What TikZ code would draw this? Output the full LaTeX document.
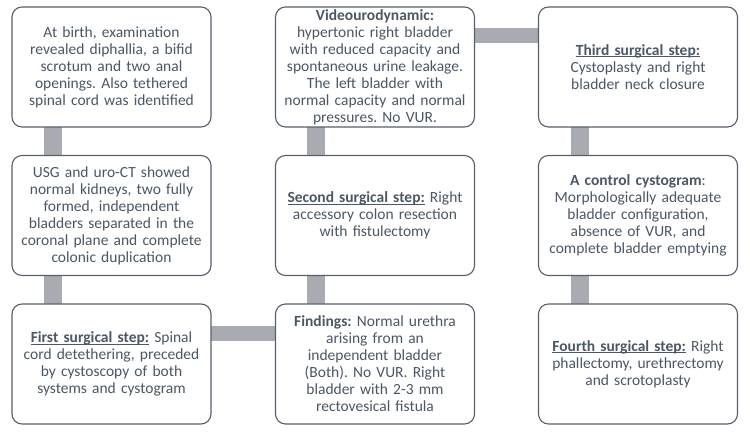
\documentclass[tikz,border=0pt]{standalone}
\usepackage{fontspec}
\setmainfont{Carlito}
\usetikzlibrary{backgrounds}
\frenchspacing
\definecolor{txt}{HTML}{4A5866}
\definecolor{bord}{HTML}{56606C}
\definecolor{barc}{HTML}{A8ABB2}
\newcommand\hul[1]{\setbox0\hbox{#1}\rlap{\rule[-2pt]{\wd0}{0.9pt}}\box0\relax}
\tikzset{
  box/.style={draw=bord, line width=1.1pt, rounded corners=10pt, fill=white,
    minimum width=199pt, minimum height=120pt, text width=197pt, align=center,
    text=txt, inner sep=0pt, font=\fontsize{15.5}{17}\selectfont},
  vbar/.style={draw=barc, line width=18pt},
  hbar/.style={draw=barc, line width=15pt}
}
\begin{document}
\begin{tikzpicture}[x=1pt,y=-1pt]
\useasboundingbox (0,0) rectangle (750,438);
% nodes
\node[box] (a1) at (111.5,67) {At birth, examination\\ revealed diphallia, a bifid\\ scrotum and two anal\\ openings. Also tethered\\ spinal cord was identified};
\node[box] (a2) at (111.5,215.5) {USG and uro-CT showed\\ normal kidneys, two fully\\ formed, independent\\ bladders separated in the\\ coronal plane and complete\\ colonic duplication};
\node[box] (a3) at (111.5,364) {\hul{\textbf{First surgical step:}} Spinal\\ cord detethering, preceded\\ by cystoscopy of both\\ systems and cystogram};
\node[box] (b3) at (375,364) {\textbf{Findings:} Normal urethra\\ arising from an\\ independent bladder\\ (Both). No VUR. Right\\ bladder with 2-3 mm\\ rectovesical fistula};
\node[box] (b2) at (375,215.5) {\hul{\textbf{Second surgical step:}} Right\\ accessory colon resection\\ with fistulectomy};
\node[box] (b1) at (375,67) {\textbf{Videourodynamic:}\\ hypertonic right bladder\\ with reduced capacity and\\ spontaneous urine leakage.\\ The left bladder with\\ normal capacity and normal\\ pressures. No VUR.};
\node[box] (c1) at (638,67) {\hul{\textbf{Third surgical step:}}\\ Cystoplasty and right\\ bladder neck closure};
\node[box] (c2) at (638,215.5) {\textbf{A control cystogram}:\\ Morphologically adequate\\ bladder configuration,\\ absence of VUR, and\\ complete bladder emptying};
\node[box] (c3) at (638,364) {\hul{\textbf{Fourth surgical step:}} Right\\ phallectomy, urethrectomy\\ and scrotoplasty};
% connectors (behind)
\begin{scope}[on background layer]
\draw[vbar] ([xshift=-59pt]a1.center) -- ([xshift=-59pt]a2.center);
\draw[vbar] ([xshift=-59pt]a2.center) -- ([xshift=-59pt]a3.center);
\draw[hbar] ([yshift=30pt]a3.center) -- ([yshift=30pt]b3.center);
\draw[vbar] ([xshift=-59pt]b3.center) -- ([xshift=-59pt]b2.center);
\draw[vbar] ([xshift=-59pt]b2.center) -- ([xshift=-59pt]b1.center);
\draw[hbar] ([yshift=31.5pt]b1.center) -- ([yshift=31.5pt]c1.center);
\draw[vbar] ([xshift=-58.5pt]c1.center) -- ([xshift=-58.5pt]c2.center);
\draw[vbar] ([xshift=-58.5pt]c2.center) -- ([xshift=-58.5pt]c3.center);
\end{scope}
\end{tikzpicture}
\end{document}
